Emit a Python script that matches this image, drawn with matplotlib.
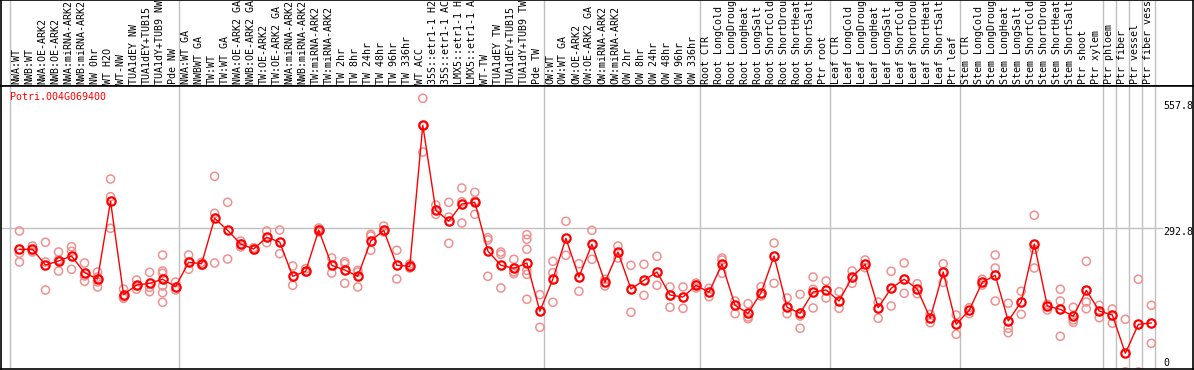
import matplotlib
matplotlib.use('Agg')
import matplotlib.pyplot as plt
import numpy as np

# ---- data -------------------------------------------------------------
gene_id = 'Potri.004G069400'

samples = [
    'NWA:WT', 'NWB:WT', 'NWA:OE-ARK2', 'NWB:OE-ARK2', 'NWA:miRNA-ARK2',
    'NWB:miRNA-ARK2', 'NW 0hr', 'WT H2O', 'WT-NW', 'TUA1dEY NW',
    'TUA1dEY+TUB15 NW', 'TUA1dY+TUB9 NW', 'Pde NW',
    'NWA:WT GA', 'NWBWT GA', 'TW:WT', 'TW:WT GA', 'NWA:OE-ARK2 GA',
    'NWB:OE-ARK2 GA', 'TW:OE-ARK2', 'TW:OE-ARK2 GA', 'NWA:miRNA-ARK2',
    'NWB:miRNA-ARK2', 'TW:miRNA-ARK2', 'TW:miRNA-ARK2', 'TW 2hr', 'TW 8hr',
    'TW 24hr', 'TW 48hr', 'TW 96hr', 'TW 336hr', 'WT ACC',
    '35S::etr1-1 H2O', '35S::etr1-1 ACC', 'LMX5::etr1-1 H2O',
    'LMX5::etr1-1 ACC', 'WT-TW', 'TUA1dEY TW', 'TUA1dEY+TUB15 TW',
    'TUA1dY+TUB9 TW', 'Pde TW',
    'OW:WT', 'OW:WT GA', 'OW:OE-ARK2', 'OW:OE-ARK2 GA', 'OW:miRNA-ARK2',
    'OW:miRNA-ARK2', 'OW 2hr', 'OW 8hr', 'OW 24hr', 'OW 48hr', 'OW 96hr',
    'OW 336hr',
    'Root CTR', 'Root LongCold', 'Root LongDrought', 'Root LongHeat',
    'Root LongSalt', 'Root ShortCold', 'Root ShortDrought', 'Root ShortHeat',
    'Root ShortSalt', 'Ptr root',
    'Leaf CTR', 'Leaf LongCold', 'Leaf LongDrought', 'Leaf LongHeat',
    'Leaf LongSalt', 'Leaf ShortCold', 'Leaf ShortDrought', 'Leaf ShortHeat',
    'Leaf ShortSalt', 'Ptr leaf',
    'Stem CTR', 'Stem LongCold', 'Stem LongDrought', 'Stem LongHeat',
    'Stem LongSalt', 'Stem ShortCold', 'Stem ShortDrought', 'Stem ShortHeat',
    'Stem ShortSalt', 'Ptr shoot',
    'Ptr xylem', 'Ptr phloem', 'Ptr fiber', 'Ptr vessel', 'Ptr fiber vessel',
]

# sample group boundaries (index of first sample after the break)
group_breaks = [0, 13, 41, 53, 63, 73, 84, 85, 86, 87, 88]

means = [
    250.1, 250.1, 218.1, 226.3, 236.4, 202.4, 189.6, 347.9, 157.6, 177.3,
    180.8, 189.0, 173.9, 223.6, 220.7, 313.3, 288.8, 260.9, 250.7, 274.6,
    265.0, 195.1, 205.3, 289.4, 217.5, 207.9, 195.1, 267.0, 288.8, 217.5,
    215.4, 502.9, 329.6, 307.8, 342.4, 345.9, 246.6, 217.5, 211.4, 222.2,
    123.7, 189.6, 272.5, 193.6, 260.3, 182.8, 244.6, 169.2, 186.9, 203.8,
    156.9, 152.9, 176.7, 162.5, 220.1, 136.0, 119.6, 161.6, 236.4, 131.9,
    119.6, 163.1, 167.1, 144.7, 193.6, 219.5, 131.1, 170.6, 189.0, 169.2,
    109.5, 203.8, 97.2, 125.8, 182.8, 197.1, 104.0, 143.3, 260.9, 134.5,
    127.8, 113.5, 166.5, 124.3, 116.2, 38.1, 97.2, 99.9,
]

replicates = [
    [287.4, 241.9, 224.2], [256.8, 248.7, 244.6], [264.4, 224.2, 167.1],
    [244.6, 228.3, 205.9], [255.4, 246.0, 209.3], [222.2, 195.7, 184.9],
    [203.8, 193.6, 183.4, 173.3], [393.4, 357.3, 292.9], [169.2, 152.9, 150.2],
    [187.5, 175.3, 168.6], [203.2, 172.6, 163.7],
    [238.5, 205.9, 201.2, 175.3, 161.6, 142.1], [183.4, 167.1],
    [238.5, 224.2, 209.3], [223.6, 217.5], [398.9, 323.5, 222.2],
    [345.9, 230.3], [267.0, 260.9, 254.8], [253.4, 248.7], [287.4, 263.6],
    [289.4, 241.1], [216.1, 176.7], [210.6, 203.8], [293.5, 289.4, 285.4],
    [232.4, 201.8], [224.8, 220.7, 180.8], [207.3, 203.8, 173.3],
    [280.7, 277.2, 248.1], [297.6, 285.4], [248.1, 189.6],
    [220.1, 216.1, 212.0], [557.9, 502.4, 448.4], [340.4, 321.4],
    [345.9, 315.9, 262.3], [375.0, 347.1, 303.7], [366.3, 348.5, 321.4],
    [273.7, 269.1, 195.1], [244.6, 239.9, 171.2], [229.7, 204.4, 200.4],
    [279.9, 270.5, 250.1, 207.3, 199.1, 148.2], [157.6, 91.1],
    [225.6, 202.4, 142.1], [307.2, 237.9], [220.7, 164.5], [288.8, 229.7],
    [189.0, 175.3], [256.8, 232.4], [217.5, 121.7], [219.5, 156.3],
    [235.8, 176.7], [173.3, 131.9], [173.3, 129.8], [181.4, 177.3, 171.2],
    [170.6, 153.5], [232.4, 228.3, 201.2], [144.7, 118.8],
    [139.2, 112.1, 108.6], [173.9, 154.9], [262.9, 180.8], [150.8, 118.8],
    [158.4, 114.1, 89.1], [193.6, 168.6, 130.5], [185.5, 150.8],
    [163.7, 129.8], [205.9, 180.8], [228.3, 212.6], [142.7, 109.5],
    [205.3, 134.5], [222.2, 160.4], [180.0, 159.6], [117.6, 100.5],
    [220.7, 182.8], [116.2, 76.8], [131.1, 118.8], [189.0, 177.3],
    [238.5, 212.0, 144.7], [140.0, 89.1, 80.1], [164.5, 117.6],
    [319.4, 250.1, 212.0], [138.0, 126.4], [168.6, 144.7, 72.8],
    [131.9, 106.0, 101.3], [225.6, 142.7, 129.0], [136.0, 110.7],
    [128.4, 99.3], [107.4, 0.0, 0.0], [189.0, 0.0], [136.0, 58.5],
]

scale_ticks = [557.8, 292.8, 0]

# ---- figure layout (pixel based) --------------------------------------
W, H = 1194, 370
plt.rcParams['font.family'] = ['DejaVu Sans Mono']
fig = plt.figure(figsize=(W / 100, H / 100), dpi=100)


def px_box(x0, y0, x1, y1):
    return [x0 / W, 1 - y1 / H, (x1 - x0) / W, (y1 - y0) / H]


ax_lab = fig.add_axes(px_box(1, 0, 1193, 86))
ax = fig.add_axes(px_box(1, 86, 1193, 369))

xlim = (-1.19, 90.43)
grid_c = '#c0c0c0'
red = '#ff0000'
pink = '#f09090'
fs = 7.2
max_chars = 14  # header column only holds ~14 characters

for a in (ax_lab, ax):
    a.set_xlim(*xlim)
    a.set_xticks([])
    a.set_yticks([])
    for s in a.spines.values():
        s.set_color('black')
        s.set_linewidth(1.2)
    for b in group_breaks:
        a.axvline(b - 0.477, color=grid_c, lw=1, zorder=0)

# ---- sample labels ----------------------------------------------------
ax_lab.set_ylim(0, 1)
for i, name in enumerate(samples):
    ax_lab.text(i, 0.025, name[:max_chars].rstrip(), rotation=90,
                ha='center', va='bottom', fontsize=fs, color='black')

# ---- expression plot --------------------------------------------------
ax.set_ylim(6.1, 583)
ax.axhline(scale_ticks[1], xmin=0, xmax=0.974, color=grid_c, lw=1, zorder=0)

x = np.arange(len(means)) + 0.23
for xi, reps in zip(x, replicates):
    ax.scatter([xi] * len(reps), reps, s=34, facecolors='none',
               edgecolors=pink, linewidths=1.1, zorder=2)

ax.plot(x, means, color=red, lw=1, zorder=3)
ax.plot(x, means, 'o', ms=6, mfc='none', mec=red, mew=1.6, zorder=4)

ax.text(0.0075, 0.96, gene_id, transform=ax.transAxes, color=red,
        fontsize=fs, ha='left', va='center')

tick_offsets = [-8, -4, 9]
for v, dy in zip(scale_ticks, tick_offsets):
    ax.annotate(f'{v:g}', xy=(0.9748, v), xycoords=('axes fraction', 'data'),
                xytext=(0, dy), textcoords='offset pixels',
                ha='left', va='center', fontsize=fs, color='black',
                annotation_clip=False)

fig.savefig('out.png', dpi=100)
